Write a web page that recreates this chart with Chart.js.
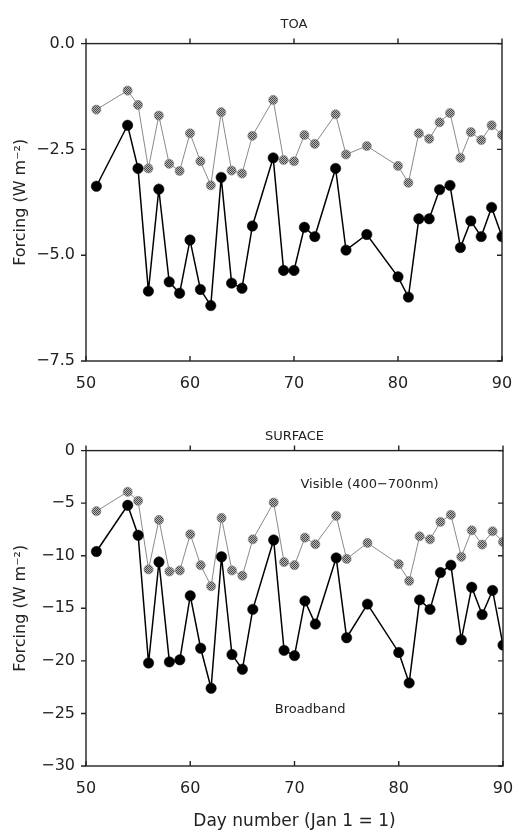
<!DOCTYPE html>
<html>
<head>
<meta charset="utf-8">
<script src="https://cdn.jsdelivr.net/npm/chart.js@4.4.1/dist/chart.umd.min.js"></script>
<style>
  html, body { margin: 0; padding: 0; background: #fff; }
  #wrap { position: relative; width: 514px; height: 832px; }
  canvas { position: absolute; left: 0; }
  #toaChart { top: 0; }
  #sfcChart { top: 410px; }
</style>
</head>
<body>
<div id="wrap">
  <canvas id="toaChart" width="514" height="410"></canvas>
  <canvas id="sfcChart" width="514" height="422"></canvas>
</div>
<script>
// day numbers of the measurements
const days = [51, 54, 55, 56, 57, 58, 59, 60, 61, 62, 63, 64, 65, 66, 68, 69, 70,
  71, 72, 74, 75, 77, 80, 81, 82, 83, 84, 85, 86, 87, 88, 89, 90];

// TOA forcing (W m-2)
const toaBroadband = [-3.37, -1.93, -2.95, -5.85, -3.44, -5.63, -5.90, -4.64, -5.81,
  -6.19, -3.16, -5.66, -5.78, -4.31, -2.70, -5.36, -5.36, -4.34, -4.56, -2.95, -4.88,
  -4.51, -5.51, -5.99, -4.14, -4.14, -3.45, -3.35, -4.82, -4.19, -4.56, -3.87, -4.56];
const toaVisible = [-1.56, -1.11, -1.45, -2.95, -1.70, -2.84, -3.01, -2.12, -2.78,
  -3.35, -1.62, -3.00, -3.07, -2.18, -1.33, -2.75, -2.78, -2.16, -2.37, -1.67, -2.62,
  -2.42, -2.89, -3.29, -2.12, -2.25, -1.86, -1.64, -2.70, -2.09, -2.28, -1.93, -2.16];

// surface forcing (W m-2)
const sfcBroadband = [-9.6, -5.2, -8.05, -20.2, -10.6, -20.1, -19.9, -13.8, -18.8,
  -22.6, -10.1, -19.4, -20.8, -15.1, -8.5, -19.0, -19.5, -14.3, -16.5, -10.2, -17.8,
  -14.6, -19.2, -22.1, -14.2, -15.1, -11.6, -10.9, -18.0, -13.0, -15.6, -13.3, -18.5];
const sfcVisible = [-5.76, -3.92, -4.78, -11.3, -6.59, -11.5, -11.4, -7.96, -10.9,
  -12.9, -6.40, -11.4, -11.9, -8.44, -4.94, -10.6, -10.9, -8.28, -8.91, -6.21, -10.3,
  -8.78, -10.8, -12.4, -8.15, -8.44, -6.78, -6.11, -10.1, -7.58, -8.94, -7.67, -8.69];

const dayTicks = [50, 60, 70, 80, 90];
const toaTicks = [0, -2.5, -5, -7.5];
const sfcTicks = [0, -5, -10, -15, -20, -25, -30];

const FONT = "'DejaVu Sans', sans-serif";
const INK = "#222";

const toPoints = (values) => values.map((v, i) => ({ x: days[i], y: v }));
const minus = (s) => s.replace("-", "\u2212");

// grey stippled fill used for the visible-band markers
const makeStipple = () => {
  const c = document.createElement("canvas");
  c.width = 2;
  c.height = 2;
  const g = c.getContext("2d");
  g.fillStyle = "#b4b4b4";
  g.fillRect(0, 0, 2, 2);
  g.fillStyle = "#4a4a4a";
  g.fillRect(0, 0, 1, 1);
  g.fillRect(1, 1, 1, 1);
  return g.createPattern(c, "repeat");
};
const stipple = makeStipple();

// box round the plot, ticks pointing up / left like the original
const framePlugin = {
  id: "frame",
  afterDatasetsDraw(chart) {
    const { ctx, chartArea: a, scales } = chart;
    const len = 5;
    ctx.save();
    ctx.strokeStyle = INK;
    ctx.lineWidth = 1.4;
    ctx.strokeRect(a.left, a.top, a.right - a.left, a.bottom - a.top);
    ctx.beginPath();
    scales.x.ticks.forEach((t) => {
      const px = scales.x.getPixelForValue(t.value);
      ctx.moveTo(px, a.top);
      ctx.lineTo(px, a.top - len);
      ctx.moveTo(px, a.bottom);
      ctx.lineTo(px, a.bottom - len);
    });
    scales.y.ticks.forEach((t) => {
      const py = scales.y.getPixelForValue(t.value);
      ctx.moveTo(a.left, py);
      ctx.lineTo(a.left - len, py);
      ctx.moveTo(a.right, py);
      ctx.lineTo(a.right - len, py);
    });
    ctx.stroke();
    ctx.restore();
  },
};

// in-plot labels for the surface panel
const notesPlugin = {
  id: "notes",
  afterDatasetsDraw(chart, args, opts) {
    if (!opts.items) return;
    const { ctx, scales } = chart;
    ctx.save();
    ctx.fillStyle = INK;
    ctx.font = `13px ${FONT}`;
    ctx.textAlign = "center";
    ctx.textBaseline = "middle";
    opts.items.forEach((n) => {
      ctx.fillText(n.text, scales.x.getPixelForValue(n.day), scales.y.getPixelForValue(n.value));
    });
    ctx.restore();
  },
};

const makeDatasets = (broadband, visible) => [
  {
    label: "Broadband",
    data: toPoints(broadband),
    borderColor: "#000",
    borderWidth: 1.5,
    pointRadius: 5.2,
    pointBackgroundColor: "#000",
    pointBorderColor: "#000",
    pointBorderWidth: 0.5,
    clip: 0,
  },
  {
    label: "Visible (400-700nm)",
    data: toPoints(visible),
    borderColor: "#8a8a8a",
    borderWidth: 1,
    pointRadius: 4.6,
    pointBackgroundColor: stipple,
    pointBorderColor: "#8a8a8a",
    pointBorderWidth: 0.6,
    clip: 0,
  },
];

const makeChart = (canvas, cfg) =>
  new Chart(canvas, {
    type: "line",
    data: { datasets: makeDatasets(cfg.broadband, cfg.visible) },
    plugins: [framePlugin, notesPlugin],
    options: {
      responsive: false,
      animation: false,
      events: [],
      layout: { padding: { left: 0, right: cfg.padRight, top: 0, bottom: 0 } },
      plugins: {
        legend: { display: false },
        tooltip: { enabled: false },
        title: {
          display: true,
          text: cfg.title,
          fullSize: false,
          color: INK,
          font: { family: FONT, size: 13, weight: "normal" },
          padding: cfg.titlePad,
        },
        notes: { items: cfg.notes },
      },
      scales: {
        x: {
          type: "linear",
          min: 50,
          max: 90,
          afterBuildTicks: (s) => {
            s.ticks = dayTicks.map((v) => ({ value: v }));
          },
          afterFit: (s) => {
            s.height = cfg.xHeight;
            s.paddingLeft = 0;
            s.paddingRight = 0;
          },
          grid: { display: false, drawTicks: false },
          border: { display: false },
          ticks: {
            color: INK,
            font: { family: FONT, size: 16 },
            padding: 13,
            maxRotation: 0,
          },
          title: {
            display: !!cfg.xTitle,
            text: cfg.xTitle || "",
            color: INK,
            font: { family: FONT, size: 17 },
            padding: { top: 0, bottom: 0 },
          },
        },
        y: {
          type: "linear",
          min: cfg.yMin,
          max: 0,
          afterBuildTicks: (s) => {
            s.ticks = cfg.yTicks.map((v) => ({ value: v }));
          },
          afterFit: (s) => {
            s.width = 86;
            s.paddingTop = 0;
            s.paddingBottom = 0;
          },
          grid: { display: false, drawTicks: false },
          border: { display: false },
          ticks: {
            color: INK,
            font: { family: FONT, size: 16 },
            padding: 11,
            callback: (v) => minus(v === 0 ? cfg.zeroLabel : cfg.fmt(v)),
          },
          title: {
            display: true,
            text: "Forcing (W m\u207B\u00B2)",
            color: INK,
            font: { family: FONT, size: 16 },
            padding: { top: 11, bottom: 0 },
          },
        },
      },
    },
  });

makeChart(document.getElementById("toaChart"), {
  title: "TOA",
  titlePad: { top: 17, bottom: 11 },
  padRight: 12,
  broadband: toaBroadband,
  visible: toaVisible,
  yMin: -7.5,
  yTicks: toaTicks,
  zeroLabel: "0.0",
  fmt: (v) => v.toFixed(1),
  xHeight: 49,
});

makeChart(document.getElementById("sfcChart"), {
  title: "SURFACE",
  titlePad: { top: 19, bottom: 6 },
  padRight: 11,
  broadband: sfcBroadband,
  visible: sfcVisible,
  yMin: -30,
  yTicks: sfcTicks,
  zeroLabel: "0",
  fmt: (v) => String(v),
  xHeight: 66,
  xTitle: "Day number (Jan 1 = 1)",
  notes: [
    { text: "Visible (400\u2212700nm)", day: 77.2, value: -3.2 },
    { text: "Broadband", day: 71.5, value: -24.6 },
  ],
});
</script>
</body>
</html>
